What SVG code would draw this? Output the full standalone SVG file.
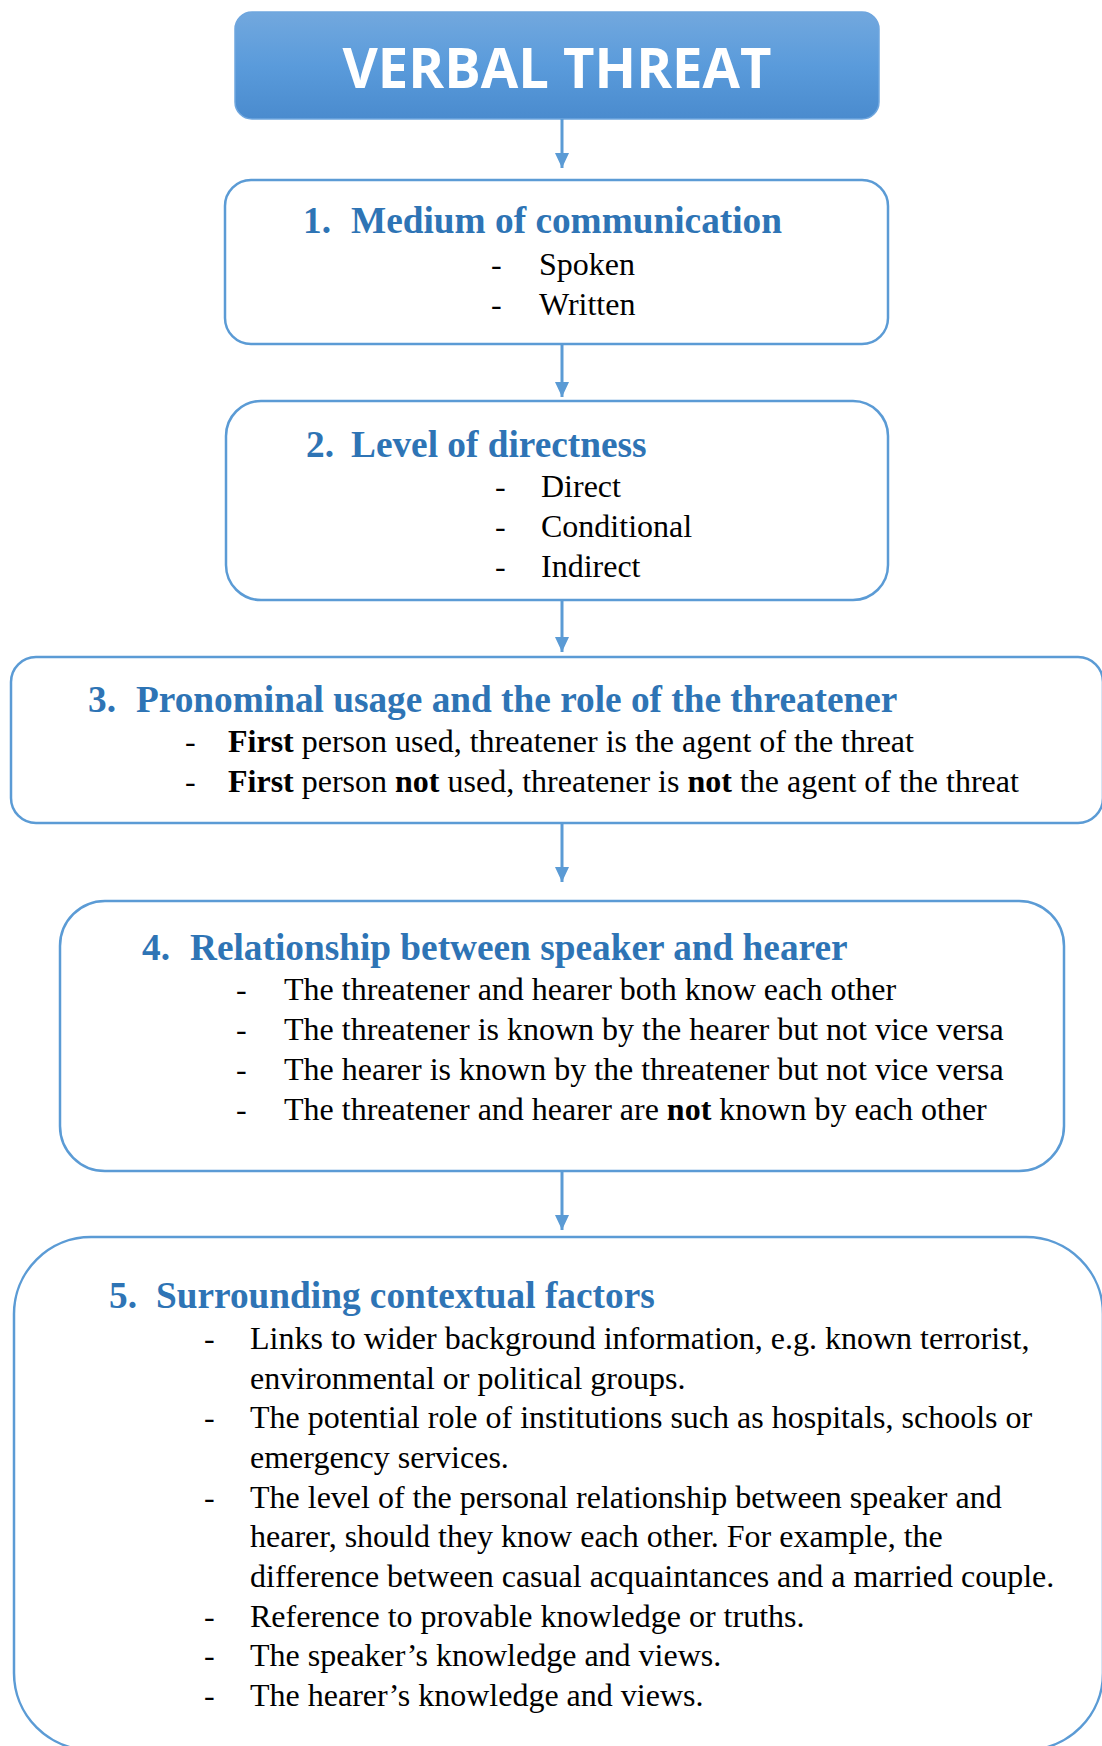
<svg xmlns="http://www.w3.org/2000/svg" width="1102" height="1746" viewBox="0 0 1102 1746">
<defs>
<linearGradient id="tg" x1="0" y1="0" x2="0" y2="1">
<stop offset="0" stop-color="#72A8DE"/>
<stop offset="0.5" stop-color="#5A9BDB"/>
<stop offset="1" stop-color="#4A8BCE"/>
</linearGradient>
<marker id="ah" viewBox="0 0 15 14" refX="15" refY="7" markerWidth="15" markerHeight="14" markerUnits="userSpaceOnUse" orient="auto">
<path d="M0,0 L15,7 L0,14 Z" fill="#5B9BD5"/>
</marker>
<style>
.box{fill:#FFFFFF;stroke:#5B9BD5;stroke-width:2.5}
.h{font-family:"Liberation Serif","Times New Roman",serif;font-weight:bold;font-size:37.3px;fill:#2E74B5}
.t{font-family:"Liberation Serif","Times New Roman",serif;font-size:32px;fill:#000000}
.b{font-weight:bold}
.con line{stroke:#5B9BD5;stroke-width:3}
</style>
</defs>
<rect width="1102" height="1746" fill="#FFFFFF"/>
<g id="title">
<rect x="235" y="12" width="644" height="107" rx="17" fill="url(#tg)" stroke="#6FA6DE" stroke-width="1.5"/>
<text x="557" y="88" text-anchor="middle" font-family="'Open Sans','Liberation Sans',sans-serif" font-weight="bold" font-size="56" fill="#FFFFFF" textLength="429" lengthAdjust="spacingAndGlyphs">VERBAL THREAT</text>
</g>
<g id="connectors" class="con">
<line x1="562" y1="119" x2="562" y2="168" marker-end="url(#ah)"/>
<line x1="562" y1="344" x2="562" y2="397" marker-end="url(#ah)"/>
<line x1="562" y1="600" x2="562" y2="652" marker-end="url(#ah)"/>
<line x1="562" y1="823" x2="562" y2="882" marker-end="url(#ah)"/>
<line x1="562" y1="1171" x2="562" y2="1230" marker-end="url(#ah)"/>
</g>
<g id="node1">
<rect class="box" x="225" y="180" width="663" height="164" rx="26"/>
<text class="h" x="303" y="233">1.</text>
<text class="h" x="351" y="233">Medium of communication</text>
<text class="t" x="491" y="275">-</text><text class="t" x="539" y="275">Spoken</text>
<text class="t" x="491" y="315">-</text><text class="t" x="539" y="315">Written</text>
</g>
<g id="node2">
<rect class="box" x="226" y="401" width="662" height="199" rx="35"/>
<text class="h" x="306" y="457">2.</text>
<text class="h" x="351" y="457">Level of directness</text>
<text class="t" x="495" y="497">-</text><text class="t" x="541" y="497">Direct</text>
<text class="t" x="495" y="537">-</text><text class="t" x="541" y="537">Conditional</text>
<text class="t" x="495" y="577">-</text><text class="t" x="541" y="577">Indirect</text>
</g>
<g id="node3">
<rect class="box" x="11" y="657" width="1092" height="166" rx="25"/>
<text class="h" x="88" y="712">3.</text>
<text class="h" x="136" y="712">Pronominal usage and the role of the threatener</text>
<text class="t" x="185" y="752">-</text><text class="t" x="228" y="752"><tspan class="b">First</tspan> person used, threatener is the agent of the threat</text>
<text class="t" x="185" y="792">-</text><text class="t" x="228" y="792"><tspan class="b">First</tspan> person <tspan class="b">not</tspan> used, threatener is <tspan class="b">not</tspan> the agent of the threat</text>
</g>
<g id="node4">
<rect class="box" x="60" y="901" width="1004" height="270" rx="45"/>
<text class="h" x="142" y="960">4.</text>
<text class="h" x="190" y="960">Relationship between speaker and hearer</text>
<text class="t" x="236" y="1000">-</text><text class="t" x="284" y="1000">The threatener and hearer both know each other</text>
<text class="t" x="236" y="1040">-</text><text class="t" x="284" y="1040">The threatener is known by the hearer but not vice versa</text>
<text class="t" x="236" y="1080">-</text><text class="t" x="284" y="1080">The hearer is known by the threatener but not vice versa</text>
<text class="t" x="236" y="1120">-</text><text class="t" x="284" y="1120">The threatener and hearer are <tspan class="b">not</tspan> known by each other</text>
</g>
<g id="node5">
<rect class="box" x="14" y="1237" width="1089" height="513" rx="77"/>
<text class="h" x="109" y="1308">5.</text>
<text class="h" x="156" y="1308">Surrounding contextual factors</text>
<text class="t" x="204" y="1349">-</text><text class="t" x="250" y="1349">Links to wider background information, e.g. known terrorist,</text>
<text class="t" x="250" y="1389">environmental or political groups.</text>
<text class="t" x="204" y="1428">-</text><text class="t" x="250" y="1428">The potential role of institutions such as hospitals, schools or</text>
<text class="t" x="250" y="1468">emergency services.</text>
<text class="t" x="204" y="1508">-</text><text class="t" x="250" y="1508">The level of the personal relationship between speaker and</text>
<text class="t" x="250" y="1547">hearer, should they know each other. For example, the</text>
<text class="t" x="250" y="1587">difference between casual acquaintances and a married couple.</text>
<text class="t" x="204" y="1627">-</text><text class="t" x="250" y="1627">Reference to provable knowledge or truths.</text>
<text class="t" x="204" y="1666">-</text><text class="t" x="250" y="1666">The speaker’s knowledge and views.</text>
<text class="t" x="204" y="1706">-</text><text class="t" x="250" y="1706">The hearer’s knowledge and views.</text>
</g>
</svg>
